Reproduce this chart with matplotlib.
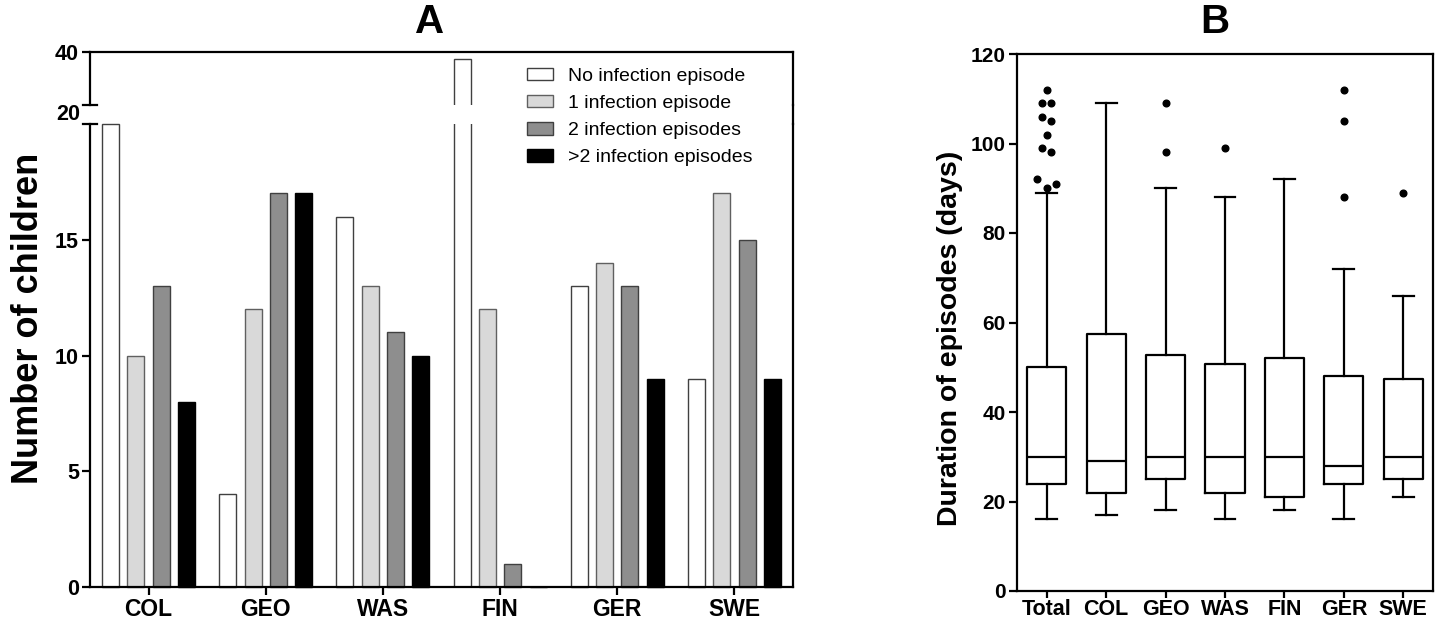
import numpy as np
import matplotlib
matplotlib.use("Agg")
import matplotlib.pyplot as plt
from matplotlib.lines import Line2D

plt.rcParams['font.family'] = ['Liberation Sans', 'DejaVu Sans']

# ---------------- Data: panel A ----------------
countries = ["COL", "GEO", "WAS", "FIN", "GER", "SWE"]
series_names = ["No infection episode", "1 infection episode",
                "2 infection episodes", ">2 infection episodes"]
no_infection = [20, 4, 16, 37.4, 13, 9]
one_infection = [10, 12, 13, 12, 14, 17]
two_infection = [13, 17, 11, 1, 13, 15]
more_infection = [8, 17, 10, 0, 9, 9]
lower_ticks = [0, 5, 10, 15]
upper_ticks = [40]

# ---------------- Data: panel B ----------------
groups = ["Total", "COL", "GEO", "WAS", "FIN", "GER", "SWE"]
whisker_low = [16, 17, 18, 16, 18, 16, 21]
q1 = [24, 22, 25, 22, 21, 24, 25]
median = [30, 29, 30, 30, 30, 28, 30]
q3 = [50, 57.5, 52.7, 50.7, 52.1, 48, 47.3]
whisker_high = [89, 109, 90, 88, 92, 72, 66]
outliers = [
    [112, 109, 109, 106, 105, 102, 99, 98, 92, 90, 91],
    [],
    [109, 98],
    [99],
    [],
    [112, 105, 88],
    [89],
]
# horizontal spread of overlapping outlier dots (style only)
outlier_dx = [
    [0, -0.08, 0.08, -0.08, 0.08, 0, -0.08, 0.08, -0.16, 0, 0.16],
    [], [0, 0], [0], [], [0, 0, 0], [0],
]

W, H = 1442, 621
fig = plt.figure(figsize=(W / 100, H / 100), dpi=100)

def fx(px):
    return px / W

def fy(py):
    return (H - py) / H

# axes placement
a_left, a_right = 90, 793
a_bot, a_brk_lo, a_brk_hi, a_top = 587, 124, 105, 52
axA = fig.add_axes([fx(a_left), fy(a_bot), fx(a_right - a_left), (a_bot - a_brk_lo) / H])
axA2 = fig.add_axes([fx(a_left), fy(a_brk_hi), fx(a_right - a_left), (a_brk_hi - a_top) / H])

b_left, b_right, b_bot, b_top = 1017, 1433, 591, 54
axB = fig.add_axes([fx(b_left), fy(b_bot), fx(b_right - b_left), (b_bot - b_top) / H])

lw = 1.6
ytick_fs = 15.5
xtick_fs = 16.5
colors = ["white", "#d9d9d9", "#8e8e8e", "black"]
edges = ["#404040", "#606060", "#404040", "black"]
series = [no_infection, one_infection, two_infection, more_infection]

x = np.arange(len(countries))
bw = 0.145
pitch = 0.216
handles = []
for i, (vals, c, ec) in enumerate(zip(series, colors, edges)):
    off = (i - 1.5) * pitch
    vals = np.array(vals, dtype=float)
    bars = axA.bar(x + off, vals, width=bw, color=c, edgecolor=ec, linewidth=1.0,
                   label=series_names[i])
    for b, v in zip(bars, vals):
        if v <= 20:
            b.set_clip_on(False)
    handles.append(bars)
    up = np.where(vals > 20, vals, np.nan)
    axA2.bar(x + off, up, width=bw, color=c, edgecolor=ec, linewidth=1.0)

for ax in (axA, axA2):
    ax.set_xlim(-0.5, len(countries) - 0.5)
    for s in ax.spines.values():
        s.set_linewidth(lw)
    ax.tick_params(axis='both', width=lw, length=6, direction='out')
    ax.tick_params(axis='y', labelsize=ytick_fs, pad=2)
    ax.tick_params(axis='x', labelsize=xtick_fs, pad=2)

axA.set_ylim(0, 20)
axA.spines['top'].set_visible(False)
axA.set_yticks(lower_ticks)
axA.set_xticks(x)
axA.set_xticklabels(countries, fontweight='bold')
for t in axA.get_yticklabels():
    t.set_fontweight('bold')

axA2.set_ylim(20, 40)
axA2.spines['bottom'].set_visible(False)
axA2.set_xticks([])
axA2.set_yticks(upper_ticks)
for t in axA2.get_yticklabels():
    t.set_fontweight('bold')

# break caps on the left spine
cap = 7 / (a_right - a_left)
axA.plot([-cap, cap], [1, 1], transform=axA.transAxes, color='black', lw=lw, clip_on=False)
axA2.plot([-cap, cap], [0, 0], transform=axA2.transAxes, color='black', lw=lw, clip_on=False)
# right border through the break
fig.add_artist(Line2D([fx(a_right), fx(a_right)], [fy(a_brk_lo), fy(a_brk_hi)],
                      color='black', lw=lw))
fig.text(fx(80), fy(114), "20", ha='right', va='center', fontsize=ytick_fs, fontweight='bold')

fig.text(fx(29), fy(318), "Number of children", rotation=90, ha='center', va='center',
         fontsize=26, fontweight='bold')
fig.text(fx(430), fy(22), "A", ha='center', va='center', fontsize=29, fontweight='bold')

fig.legend(handles=handles, labels=series_names, loc='upper left',
           bbox_to_anchor=(fx(527), fy(68)), frameon=False, fontsize=14,
           handlelength=1.35, handleheight=0.6, handletextpad=0.75, labelspacing=0.52,
           borderpad=0, borderaxespad=0)

# ---------------- Panel B ----------------
stats = []
for i, g in enumerate(groups):
    stats.append(dict(label=g, whislo=whisker_low[i], q1=q1[i], med=median[i],
                      q3=q3[i], whishi=whisker_high[i], fliers=[]))
pos = np.arange(len(groups))
axB.bxp(stats, positions=pos, widths=0.66, showfliers=False,
        boxprops=dict(color='black', linewidth=lw),
        medianprops=dict(color='black', linewidth=lw),
        whiskerprops=dict(color='black', linewidth=lw),
        capprops=dict(color='black', linewidth=lw), capwidths=0.35)
for i, (vals, dx) in enumerate(zip(outliers, outlier_dx)):
    if vals:
        axB.plot(pos[i] + np.array(dx), vals, 'o', color='black', markersize=4.8)

axB.set_xlim(-0.5, len(groups) - 0.5)
axB.set_ylim(0, 120)
axB.set_yticks([0, 20, 40, 60, 80, 100, 120])
axB.set_xticks(pos)
axB.set_xticklabels(groups, fontweight='bold')
for t in axB.get_yticklabels():
    t.set_fontweight('bold')
for s in axB.spines.values():
    s.set_linewidth(lw)
axB.tick_params(axis='both', width=lw, length=6, direction='out')
axB.tick_params(axis='y', labelsize=15, pad=2)
axB.tick_params(axis='x', labelsize=15.5, pad=1, length=5)

fig.text(fx(950), fy(338), "Duration of episodes (days)", rotation=90, ha='center',
         va='center', fontsize=20.5, fontweight='bold')
fig.text(fx(1215), fy(22), "B", ha='center', va='center', fontsize=29, fontweight='bold')

fig.savefig("out.png", dpi=100)
